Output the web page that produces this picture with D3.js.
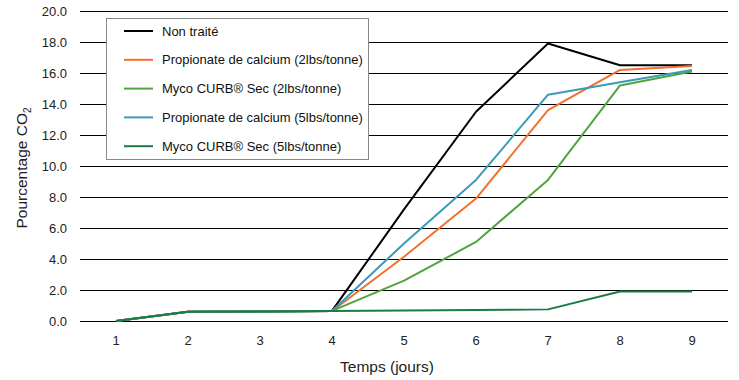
<!DOCTYPE html>
<html><head><meta charset="utf-8">
<script src="https://cdnjs.cloudflare.com/ajax/libs/d3/7.8.5/d3.min.js"></script>
<style>
html,body{margin:0;padding:0;background:#fff;}
svg{display:block;font-family:"Liberation Sans",Arial,sans-serif;}
</style></head>
<body><svg id="c" width="739" height="380"></svg>
<script>
const days = [1,2,3,4,5,6,7,8,9];
const yTicks = [0,2,4,6,8,10,12,14,16,18,20];
const seriesNames = ["Non traité","Propionate de calcium (2lbs/tonne)","Myco CURB® Sec (2lbs/tonne)","Propionate de calcium (5lbs/tonne)","Myco CURB® Sec (5lbs/tonne)"];
const seriesColors = ["#000000","#f36f2b","#51a33f","#3b99b9","#1c7a47"];
const nonTraite = [0,0.6,0.62,0.65,7.2,13.5,17.9,16.5,16.5];
const prop2 = [0,0.6,0.62,0.65,4.15,7.9,13.6,16.2,16.45];
const myco2 = [0,0.6,0.62,0.65,2.6,5.1,9.1,15.2,16.1];
const prop5 = [0,0.6,0.62,0.65,5.0,9.1,14.6,15.4,16.2];
const myco5 = [0,0.6,0.62,0.65,0.68,0.71,0.75,1.9,1.9];
const seriesValues = [nonTraite,prop2,myco2,prop5,myco5];

const svg = d3.select("#c");
const L=80,R=728,T=11,B=321;
const x = d3.scaleBand().domain(days).range([L,R]);
const y = d3.scaleLinear().domain([0,20]).range([B,T]);
const cx = d => x(d)+x.bandwidth()/2;

svg.append("g").selectAll("line").data(yTicks).join("line")
  .attr("x1",L).attr("x2",R).attr("y1",d=>Math.round(y(d))+0.5).attr("y2",d=>Math.round(y(d))+0.5)
  .attr("stroke","#000").attr("stroke-width",1);
svg.append("g").selectAll("text").data(yTicks).join("text")
  .attr("x",67).attr("y",d=>y(d)+4.5).attr("text-anchor","end")
  .attr("font-size",13).attr("fill","#222").text(d=>d.toFixed(1));
svg.append("g").selectAll("text").data(days).join("text")
  .attr("x",d=>cx(d)).attr("y",345).attr("text-anchor","middle")
  .attr("font-size",13).attr("fill","#222").text(d=>d);

const line = d3.line().x((d,i)=>cx(days[i])).y(d=>y(d));
seriesValues.forEach((vals,i)=>{
  svg.append("path").datum(vals).attr("d",line).attr("fill","none")
    .attr("stroke",seriesColors[i]).attr("stroke-width",2).attr("stroke-linejoin","round");
});

svg.append("text").attr("x",387).attr("y",372).attr("text-anchor","middle")
  .attr("font-size",15.5).attr("fill","#222").text("Temps (jours)");
const yt = svg.append("text").attr("transform","translate(27,168) rotate(-90)")
  .attr("text-anchor","middle").attr("font-size",15.5).attr("fill","#222");
yt.append("tspan").text("Pourcentage CO");
yt.append("tspan").attr("font-size",10).attr("dy",4).text("2");

const lg = svg.append("g");
lg.append("rect").attr("x",106.5).attr("y",18.5).attr("width",262).attr("height",141)
  .attr("fill","#fff").attr("stroke","#888").attr("stroke-width",1);
seriesNames.forEach((n,i)=>{
  const yy = 31 + i*28.8;
  lg.append("line").attr("x1",124).attr("x2",153).attr("y1",yy).attr("y2",yy)
    .attr("stroke",seriesColors[i]).attr("stroke-width",2);
  lg.append("text").attr("x",162).attr("y",yy+4.5).attr("font-size",13).attr("fill","#111").text(n);
});
</script></body></html>
